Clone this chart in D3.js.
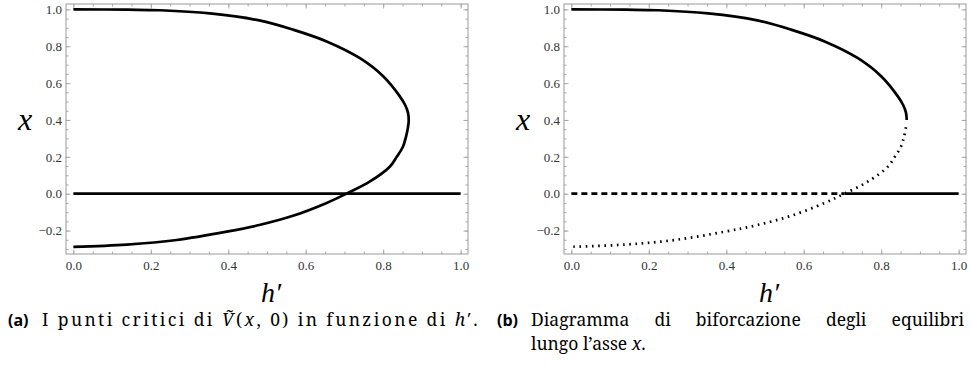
<!DOCTYPE html>
<html>
<head>
<meta charset="utf-8">
<script src="https://cdn.jsdelivr.net/npm/d3@7"></script>
<style>
	body { margin: 0; background: #fff; }
	svg { display: block; }
</style>
</head>
<body>
<script>
// upper branch of the critical points (h', x)
var upperH = [0, 0.14, 0.224, 0.353, 0.48, 0.567, 0.654, 0.74, 0.80, 0.843, 0.857, 0.864, 0.866];
var upperX = [1.0, 0.998, 0.995, 0.978, 0.940, 0.890, 0.826, 0.735, 0.637, 0.528, 0.48, 0.44, 0.40];
// lower branch
var lowerH = [0.866, 0.864, 0.859, 0.851, 0.835, 0.817, 0.765, 0.705, 0.654, 0.567, 0.48, 0.396, 0.267, 0.138, 0];
var lowerX = [0.40, 0.36, 0.31, 0.255, 0.20, 0.146, 0.065, 0.0, -0.050, -0.120, -0.170, -0.206, -0.251, -0.276, -0.288];
// x = 0 line, split at the crossing
var zeroH = [0, 0.705, 1];
var xTicks = [0, 0.2, 0.4, 0.6, 0.8, 1.0];
var yTicks = [-0.2, 0, 0.2, 0.4, 0.6, 0.8, 1.0];
var minorStep = 0.05;

(function(){
	var serif = "'Liberation Serif', 'Times New Roman', serif",
		capSerif = "'Noto Serif', 'Liberation Serif', serif";
	var svg = d3.select("body").append("svg")
		.attr("width", 972)
		.attr("height", 376);

	function zip(hs, xs) {
		return hs.map(function(h, i) {return {h: h, x: xs[i]};});
	}
	var upper = zip(upperH, upperX),
		lower = zip(lowerH, lowerX),
		zeroLeft = [{h: zeroH[0], x: 0}, {h: zeroH[1], x: 0}],
		zeroRight = [{h: zeroH[1], x: 0}, {h: zeroH[2], x: 0}];

	function fmt(d) {
		return d3.format(".1f")(d).replace("-", "\u2212");
	}

	function panel(left, kind) {
		var w = 402, h = 250, top = 4;
		var g = svg.append("g").attr("transform", "translate(" + left + "," + top + ")");
		var x = d3.scaleLinear().domain([-0.019, 1.019]).range([0, w]),
			y = d3.scaleLinear().domain([-0.327, 1.029]).range([h, 0]);
		var minorX = d3.range(0, 1.0001, minorStep),
			minorY = d3.range(-0.3, 1.0001, minorStep);

		// minor ticks on all four sides
		g.append("g").call(d3.axisLeft(y).tickValues(minorY).tickSize(-2.5).tickFormat(""));
		g.append("g").attr("transform", "translate(" + w + ",0)")
			.call(d3.axisRight(y).tickValues(minorY).tickSize(-2.5).tickFormat(""));
		g.append("g").attr("transform", "translate(0," + h + ")")
			.call(d3.axisBottom(x).tickValues(minorX).tickSize(-2.5).tickFormat(""));
		g.append("g").call(d3.axisTop(x).tickValues(minorX).tickSize(-2.5).tickFormat(""));
		// major ticks
		g.append("g").call(d3.axisLeft(y).tickValues(yTicks).tickSize(-4.5).tickPadding(4).tickFormat(fmt));
		g.append("g").attr("transform", "translate(0," + h + ")")
			.call(d3.axisBottom(x).tickValues(xTicks).tickSize(-4.5).tickPadding(7).tickFormat(fmt));
		g.append("g").attr("transform", "translate(" + w + ",0)")
			.call(d3.axisRight(y).tickValues(yTicks).tickSize(-4.5).tickFormat(""));
		g.append("g").call(d3.axisTop(x).tickValues(xTicks).tickSize(-4.5).tickFormat(""));
		g.selectAll(".domain").remove();
		g.selectAll(".tick line").attr("stroke", "#aaa");
		g.selectAll(".tick text")
			.attr("font-family", serif)
			.attr("font-size", 13)
			.attr("fill", "#333");

		g.append("rect")
			.attr("width", w)
			.attr("height", h)
			.attr("fill", "none")
			.attr("stroke", "#9a9a9a")
			.attr("stroke-width", 1);

		var line = d3.line()
			.x(function(d) {return x(d.h);})
			.y(function(d) {return y(d.x);})
			.curve(d3.curveCatmullRom);

		function draw(data, dash) {
			g.append("path")
				.datum(data)
				.attr("d", line)
				.attr("fill", "none")
				.attr("stroke", "#000")
				.attr("stroke-width", 2.7)
				.attr("stroke-dasharray", dash || null);
		}

		if (kind === "a") {
			draw(upper.concat(lower.slice(1)));
			draw(zeroLeft.concat(zeroRight.slice(1)));
		} else {
			draw(upper);
			draw(lower.slice(1), "1.6,4.6");
			draw(zeroLeft, "6,4");
			draw(zeroRight);
		}

		svg.append("text")
			.attr("x", left - 41)
			.attr("y", top + y(0.4) + 10)
			.attr("text-anchor", "middle")
			.attr("font-family", serif)
			.attr("font-style", "italic")
			.attr("font-size", 32)
			.text("x");
		svg.append("text")
			.attr("x", left + x(0.5) + 4)
			.attr("y", 302)
			.attr("text-anchor", "middle")
			.attr("font-family", serif)
			.attr("font-style", "italic")
			.attr("font-size", 28)
			.text("h\u2032");
	}

	panel(66, "a");
	panel(564, "b");

	// captions
	var capSize = 17.5;
	function caption(x0, y0, label, parts) {
		svg.append("text")
			.attr("x", x0)
			.attr("y", y0)
			.attr("font-family", "'Open Sans', sans-serif")
			.attr("font-weight", "bold")
			.attr("font-size", 16)
			.text(label);
		var t = svg.append("text")
			.attr("x", x0 + 34)
			.attr("y", y0)
			.attr("font-family", capSerif)
			.attr("font-size", capSize);
		parts.forEach(function(p) {
			t.append("tspan").attr("font-style", p[1] ? "italic" : null).text(p[0]);
		});
		return t;
	}
	function fit(t, str, target, justify) {
		var len = t.node().getComputedTextLength();
		if (justify && len < target) {
			t.attr("word-spacing", (target - len) / (str.split(" ").length - 1));
		} else {
			t.attr("letter-spacing", (target - len) / str.length);
		}
	}

	var partsA = [["I punti critici di "], ["\u1E7C", true], ["("], ["x", true], [", 0) in funzione di "], ["h", true], ["\u2032."]];
	var capA = caption(8, 326, "(a)", partsA);
	fit(capA, partsA.map(function(p) {return p[0];}).join(""), 438, false);

	// first line of (b) is justified to the column width
	var lineB = "Diagramma di biforcazione degli equilibri";
	var capB = caption(497, 326, "(b)", [[lineB]]);
	fit(capB, lineB, 433, true);
	caption(497, 350, "", [["lungo l\u2019asse "], ["x", true], ["."]]);
}());
</script>
</body>
</html>
